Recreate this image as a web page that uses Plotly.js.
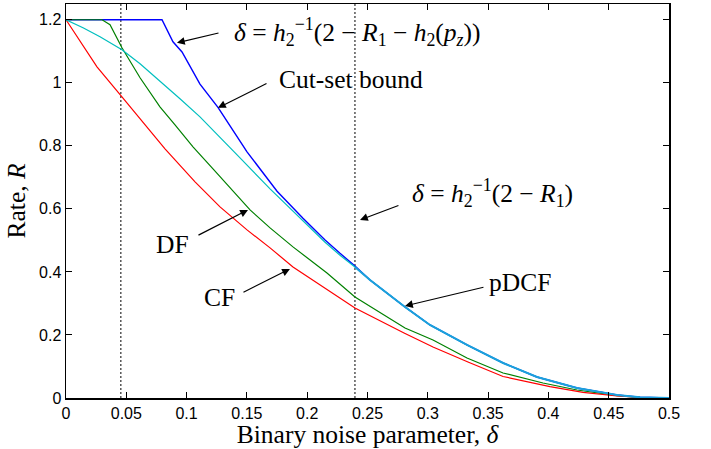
<!DOCTYPE html>
<html>
<head>
<meta charset="utf-8">
<script src="https://cdn.plot.ly/plotly-3.0.1.min.js"></script>
<style>html,body{margin:0;padding:0;background:#fff;}#chart{width:711px;height:449px;}</style>
</head>
<body>
<div id="chart"></div>
<script>
// Cut-set bound (blue)
var cutX = [0, 0.0796, 0.0887, 0.0962, 0.1111, 0.1260, 0.1501, 0.1750, 0.1965, 0.2148, 0.2272, 0.2396];
var cutY = [1.2, 1.2, 1.130, 1.098, 0.996, 0.922, 0.781, 0.656, 0.570, 0.501, 0.459, 0.419];
// pDCF (cyan)
var pdcfX = [0, 0.0141, 0.0282, 0.0464, 0.0614, 0.0779, 0.0945, 0.1111, 0.1252, 0.1459, 0.1692, 0.1965, 0.2148, 0.2272, 0.2396,
             0.2521, 0.2811, 0.3018, 0.3325, 0.3624, 0.3905, 0.4237, 0.4569, 0.4760, 0.5];
var pdcfY = [1.2, 1.1746, 1.146, 1.1048, 1.0603, 1.0063, 0.9492, 0.8921, 0.8381, 0.7556, 0.6635, 0.562, 0.494, 0.453, 0.4159,
             0.3746, 0.2889, 0.2317, 0.1683, 0.1111, 0.0667, 0.0317, 0.0095, 0.0022, 0];
var mergeIndex = 14; // from delta = 0.2396 the cut-set bound equals pDCF
// DF (green)
var dfX = [0, 0.0299, 0.0365, 0.0464, 0.0614, 0.0779, 0.0904, 0.1053, 0.1219, 0.1418, 0.1526, 0.1692, 0.1882, 0.2164, 0.2396,
           0.2811, 0.3043, 0.3325, 0.3624, 0.3955, 0.4237, 0.4569, 0.4760, 0.5];
var dfY = [1.2, 1.2, 1.1841, 1.1111, 1.0159, 0.9238, 0.8667, 0.7968, 0.7270, 0.6444, 0.5968, 0.5397, 0.4794, 0.3968, 0.3206,
           0.2222, 0.1841, 0.1270, 0.0794, 0.0476, 0.0254, 0.0073, 0.0016, 0];
// CF (red)
var cfX = [0, 0.0116, 0.0257, 0.0464, 0.0614, 0.0821, 0.1070, 0.1277, 0.1501, 0.1692, 0.1882, 0.2164, 0.2396,
           0.2803, 0.3043, 0.3333, 0.3624, 0.4013, 0.4287, 0.4569, 0.4760, 0.5];
var cfY = [1.2, 1.1333, 1.0508, 0.9556, 0.8857, 0.7905, 0.6857, 0.6063, 0.5333, 0.4762, 0.4159, 0.3429, 0.2857,
           0.2063, 0.1619, 0.1143, 0.0683, 0.0359, 0.0181, 0.0063, 0.0022, 0];
// vertical dotted markers
var vlines = [0.0455, 0.2396];
// ticks
var xTicks = [0, 0.05, 0.1, 0.15, 0.2, 0.25, 0.3, 0.35, 0.4, 0.45, 0.5];
var xTickText = ["0", "0.05", "0.1", "0.15", "0.2", "0.25", "0.3", "0.35", "0.4", "0.45", "0.5"];
var yTicks = [0, 0.2, 0.4, 0.6, 0.8, 1, 1.2];
var yTickText = ["0", "0.2", "0.4", "0.6", "0.8", "1", "1.2"];

var serif = "'Liberation Serif', 'Times New Roman', serif";
var traces = [];
vlines.forEach(function(v){
  traces.push({x:[v,v], y:[0,1.25], mode:'lines', line:{color:'black', width:1, dash:'2px,2px'}, hoverinfo:'skip'});
});
traces.push({x: cutX.concat(pdcfX.slice(mergeIndex+1)), y: cutY.concat(pdcfY.slice(mergeIndex+1)),
  mode:'lines', line:{color:'#0000ff', width:1.4}, name:'Cut-set bound'});
traces.push({x: dfX, y: dfY, mode:'lines', line:{color:'#008000', width:1.2}, name:'DF'});
traces.push({x: cfX, y: cfY, mode:'lines', line:{color:'#ff0000', width:1.2}, name:'CF'});
traces.push({x: pdcfX, y: pdcfY, mode:'lines', line:{color:'#00bfbf', width:1.2}, name:'pDCF'});
traces.push({x: pdcfX.slice(mergeIndex), y: pdcfY.slice(mergeIndex), mode:'lines', line:{color:'#1ca0dc', width:2}, name:'pDCF = cut-set'});

function arrow(hx, hy, tx, ty){
  return {x:hx, y:hy, ax:tx, ay:ty, xref:'x', yref:'y', axref:'x', ayref:'y', text:'', showarrow:true,
    arrowhead:2, arrowsize:1.3, arrowwidth:1.2, arrowcolor:'black', standoff:0, startstandoff:0};
}
function label(x, y, t){
  return {x:x, y:y, xref:'x', yref:'y', text:t, showarrow:false, xanchor:'left', yanchor:'middle',
    font:{family:serif, size:25.5, color:'black'}};
}
var annotations = [
  arrow(0.0920, 1.127, 0.1277, 1.159),
  label(0.1376, 1.162, "<i>δ</i> = <i>h</i><sub>2</sub><sup>−1</sup>(2 − <i>R</i><sub>1</sub> − <i>h</i><sub>2</sub>(<i>p<sub>z</sub></i>))"),
  arrow(0.1260, 0.9206, 0.1675, 1.0),
  label(0.175, 1.0095, "Cut-set bound"),
  arrow(0.2438, 0.565, 0.2769, 0.6127),
  label(0.2852, 0.651, "<i>δ</i> = <i>h</i><sub>2</sub><sup>−1</sup>(2 − <i>R</i><sub>1</sub>)"),
  arrow(0.1509, 0.5968, 0.1086, 0.5143),
  label(0.073, 0.4857, "DF"),
  arrow(0.1857, 0.4095, 0.1459, 0.3333),
  label(0.1128, 0.3175, "CF"),
  arrow(0.2811, 0.2921, 0.3474, 0.3524),
  label(0.349, 0.368, "pDCF")
];

var axisCommon = {showline:true, linecolor:'black', linewidth:1.5, mirror:'ticks', ticks:'inside', ticklen:6,
  tickcolor:'black', tickwidth:1, showgrid:false, zeroline:false,
  tickfont:{family:"'Liberation Sans', Arial, sans-serif", size:16, color:'black'}};

var layout = {
  width:711, height:449, margin:{l:66, r:42, t:4, b:51}, paper_bgcolor:'white', plot_bgcolor:'white',
  showlegend:false, hovermode:false,
  xaxis: Object.assign({}, axisCommon, {range:[0,0.5], tickmode:'array', tickvals:xTicks, ticktext:xTickText,
    title:{text:"Binary noise parameter, <i>δ</i>", font:{family:serif, size:25.5, color:'black'}, standoff:0}}),
  yaxis: Object.assign({}, axisCommon, {range:[0,1.25], tickmode:'array', tickvals:yTicks, ticktext:yTickText,
    title:{text:"Rate, <i>R</i>", font:{family:serif, size:25.5, color:'black'}, standoff:6}}),
  annotations: annotations
};
Plotly.newPlot('chart', traces, layout, {staticPlot:true, displayModeBar:false});
</script>
</body>
</html>
